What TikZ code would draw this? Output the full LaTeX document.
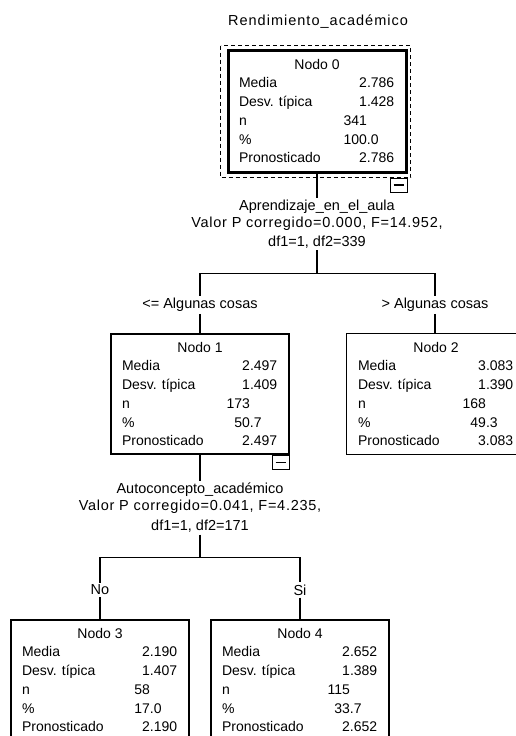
\documentclass[tikz,border=0pt]{standalone}
\usepackage{fontspec}
\setmainfont{Liberation Sans}
\usetikzlibrary{positioning}

% fila de datos: etiqueta y valor alineado en el punto decimal
\def\cifra#1.#2;{\makebox[28pt][r]{#1}\makebox[28pt][l]{\if\relax\detokenize{#2}\relax\else.#2\fi}}
\newcommand{\fila}[2]{\makebox[100pt][l]{#1}\cifra#2;}
\newcommand{\nodo}[5]{Nodo #1\\\fila{Media}{#2}\\\fila{Desv. típica}{#3}\\\fila{n}{#4.}\\\fila{\%}{#5}\\\fila{Pronosticado}{#2}}
\newcommand{\ancho}[1]{\addfontfeature{LetterSpace=#1}}

\tikzset{
    caja/.style={draw, line width=1.3pt, minimum width=178pt, minimum height=120pt,
        inner sep=0pt, align=center, font=\fontsize{14}{18.7}\selectfont},
    etiqueta/.style={align=center, inner sep=2pt, font=\fontsize{14.5}{17}\selectfont},
    plegar/.style={draw, line width=1pt, minimum width=17pt, minimum height=14pt, inner sep=0pt},
    rama/.style={line width=1.2pt}
}

\begin{document}
\begin{tikzpicture}[x=1pt,y=-1pt]
    \useasboundingbox (0,0) rectangle (516,736);

    \node[etiqueta] (titulo) at (318,22) {\ancho{7}Rendimiento\_académico};

    % raiz
    \node[caja, line width=3pt, minimum height=122pt] (n0) at (317,111)
        {\nodo{0}{2.786}{1.428}{341}{100.0}};
    \draw[line width=0.9pt, dash pattern=on 4pt off 3pt]
        ([shift={(-6pt,3pt)}]n0.north west) rectangle ([shift={(3pt,-4pt)}]n0.south east);
    \node[plegar, anchor=north east] (m0) at ([yshift=-4pt]n0.south east) {\rule{10pt}{1.2pt}};
    \node[etiqueta, below=24pt of n0] (div0)
        {Aprendizaje\_en\_el\_aula\\\ancho{5}Valor P corregido=0.000, F=14.952,\\[2pt]df1=1, df2=339};
    \coordinate[below=23pt of div0] (bar0);

    % primer nivel
    \node[etiqueta] (r1) at (200,305) {<= Algunas cosas};
    \node[etiqueta] (r2) at (435,305) {> Algunas cosas};
    \node[caja] (n1) at (200,394) {\nodo{1}{2.497}{1.409}{173}{50.7}};
    \node[caja, draw=none] (n2) at (436,394) {\nodo{2}{3.083}{1.390}{168}{49.3}};
    % el borde derecho de n2 queda fuera del dibujo
    \draw[line width=1.3pt] (516,0 |- n2.north) -- (n2.north west) -- (n2.south west) -- (516,0 |- n2.south);
    \node[plegar, anchor=north east] (m1) at (n1.south east) {\rule{10pt}{1.2pt}};
    \node[etiqueta, below=26pt of n1] (div1)
        {Autoconcepto\_académico\\\ancho{5}Valor P corregido=0.041, F=4.235,\\[3pt]df1=1, df2=171};
    \coordinate[below=23pt of div1] (bar1);

    % segundo nivel
    \node[etiqueta] (r3) at (100,590) {No};
    \node[etiqueta] (r4) at (300,590) {Si};
    \node[caja] (n3) at (100,680) {\nodo{3}{2.190}{1.407}{58}{17.0}};
    \node[caja] (n4) at (300,680) {\nodo{4}{2.652}{1.389}{115}{33.7}};

    \draw[rama] (n0) -- (div0) -- (bar0);
    \draw[rama] (bar0) -| (r1);
    \draw[rama] (bar0) -| (r2);
    \draw[rama] (r1) -- (n1);
    \draw[rama] (r2) -- (r2 |- n2.north);
    \draw[rama] (n1) -- (div1) -- (bar1);
    \draw[rama] (bar1) -| (r3);
    \draw[rama] (bar1) -| (r4);
    \draw[rama] (r3) -- (n3);
    \draw[rama] (r4) -- (n4);
\end{tikzpicture}
\end{document}
